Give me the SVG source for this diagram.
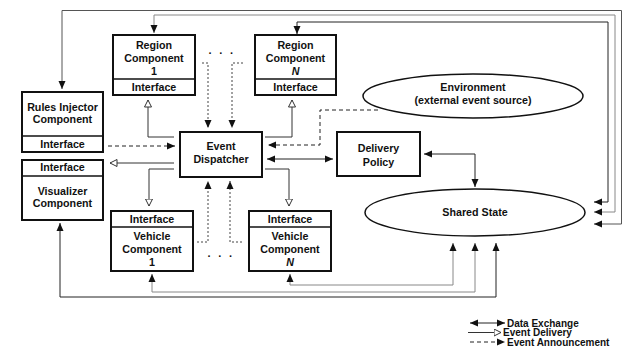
<svg xmlns="http://www.w3.org/2000/svg" width="623" height="358" viewBox="0 0 623 358">
<style>
text{font-family:"Liberation Sans",Arial,sans-serif;font-weight:bold;font-size:10.7px;fill:#111;text-anchor:middle}
.box{fill:#fff;stroke:#111;stroke-width:2}
.div{stroke:#111;stroke-width:1.5}
.ln{fill:none;stroke:#222;stroke-width:1}
.g{stroke:#888}
.m{stroke:#555}
.dl{fill:none;stroke:#333;stroke-width:1}
.da{fill:none;stroke:#222;stroke-width:1;stroke-dasharray:4 3}
.dt{fill:none;stroke:#444;stroke-width:1;stroke-dasharray:2 2}
.leg{text-anchor:start;font-size:10px}
.dots{text-anchor:start;letter-spacing:2.3px;font-size:11px}
</style>
<defs>
<marker id="fa" viewBox="0 0 8 8" refX="8" refY="4" markerWidth="8" markerHeight="8" markerUnits="userSpaceOnUse" orient="auto-start-reverse"><path d="M0,0.5 L8,4 L0,7.5 z" fill="#111"/></marker>
<marker id="oa" viewBox="0 0 8 8" refX="7.5" refY="4" markerWidth="8" markerHeight="8" markerUnits="userSpaceOnUse" orient="auto"><path d="M0.5,0.5 L7.5,4 L0.5,7.5 z" fill="#fff" stroke="#333" stroke-width="1"/></marker>
</defs>
<rect width="623" height="358" fill="#fff"/>

<g id="connectors">
<path class="dl" d="M174,137 H148 V100" marker-end="url(#oa)"/>
<path class="dl" d="M265,137 H292 V100" marker-end="url(#oa)"/>
<path class="dl" d="M174,163 H110" marker-end="url(#oa)"/>
<path class="dl" d="M174,169 H149 V206" marker-end="url(#oa)"/>
<path class="dl" d="M265,169 H289 V206" marker-end="url(#oa)"/>
<path class="da" d="M108,146 H175" marker-end="url(#fa)"/>
<path class="da" d="M378,110 H320 V145 H268" marker-end="url(#fa)"/>
<path class="dt" d="M202,63 H208 V128" marker-end="url(#fa)"/>
<path class="dt" d="M243,63 H232 V128" marker-end="url(#fa)"/>
<path class="dt" d="M197,242 H208 V181" marker-end="url(#fa)"/>
<path class="dt" d="M242,242 H230 V181" marker-end="url(#fa)"/>
<path class="ln" d="M267,159 H333" marker-start="url(#fa)" marker-end="url(#fa)"/>
<path class="ln" d="M424,154 H475 V187" marker-start="url(#fa)" marker-end="url(#fa)"/>
<path class="ln m" d="M62,89 V10.5 H621.5 V224 H594" marker-start="url(#fa)" marker-end="url(#fa)"/>
<path class="ln g" d="M154,33 V15 H615 V212 H594" marker-start="url(#fa)" marker-end="url(#fa)"/>
<path class="ln" d="M297,34 V22 H608 V202 H594" marker-start="url(#fa)" marker-end="url(#fa)"/>
<path class="ln" d="M60,223 V297 H496 V243" marker-start="url(#fa)" marker-end="url(#fa)"/>
<path class="ln g" d="M152,274 V292 H475 V243" marker-start="url(#fa)" marker-end="url(#fa)"/>
<path class="ln g" d="M290,274 V285 H453 V243" marker-start="url(#fa)" marker-end="url(#fa)"/>
</g>

<g id="region1">
<rect class="box" x="113" y="35" width="82" height="60"/>
<line class="div" x1="113" y1="79" x2="195" y2="79"/>
<text x="154" y="49">Region</text>
<text x="154" y="62">Component</text>
<text x="154" y="75">1</text>
<text x="154" y="91">Interface</text>
</g>
<g id="regionN">
<rect class="box" x="255" y="35" width="81" height="60"/>
<line class="div" x1="255" y1="79" x2="336" y2="79"/>
<text x="295.5" y="49">Region</text>
<text x="295.5" y="62">Component</text>
<text x="295.5" y="75" font-style="italic">N</text>
<text x="295.5" y="91">Interface</text>
</g>
<g id="dots-top"><text class="dots" x="208.5" y="54">. . .</text></g>
<g id="rules">
<rect class="box" x="22" y="92" width="81" height="60"/>
<line class="div" x1="22" y1="136" x2="103" y2="136"/>
<text x="62.5" y="111">Rules Injector</text>
<text x="62.5" y="123">Component</text>
<text x="62.5" y="148">Interface</text>
</g>
<g id="visualizer">
<rect class="box" x="22" y="160" width="81" height="60"/>
<line class="div" x1="22" y1="176" x2="103" y2="176"/>
<text x="62.5" y="171">Interface</text>
<text x="62.5" y="195">Visualizer</text>
<text x="62.5" y="207">Component</text>
</g>
<g id="dispatcher">
<rect class="box" x="180" y="132" width="82" height="45"/>
<text x="221" y="150">Event</text>
<text x="221" y="163">Dispatcher</text>
</g>
<g id="delivery">
<rect class="box" x="337" y="132" width="83" height="44"/>
<text x="378.5" y="152">Delivery</text>
<text x="378.5" y="166">Policy</text>
</g>
<g id="environment">
<ellipse cx="473" cy="96" rx="110" ry="22" fill="#fff" stroke="#111" stroke-width="1.5"/>
<text x="473" y="91">Environment</text>
<text x="473" y="104">(external event source)</text>
</g>
<g id="shared">
<ellipse cx="475" cy="212.5" rx="110" ry="23.5" fill="#fff" stroke="#111" stroke-width="1.5"/>
<text x="475" y="216">Shared State</text>
</g>
<g id="vehicle1">
<rect class="box" x="111" y="211" width="82" height="60"/>
<line class="div" x1="111" y1="227" x2="193" y2="227"/>
<text x="152" y="223">Interface</text>
<text x="152" y="240">Vehicle</text>
<text x="152" y="253">Component</text>
<text x="152" y="266">1</text>
</g>
<g id="vehicleN">
<rect class="box" x="249" y="211" width="82" height="60"/>
<line class="div" x1="249" y1="227" x2="331" y2="227"/>
<text x="290" y="223">Interface</text>
<text x="290" y="240">Vehicle</text>
<text x="290" y="253">Component</text>
<text x="290" y="266" font-style="italic">N</text>
</g>
<g id="dots-bottom"><text class="dots" x="207.5" y="257">. . .</text></g>

<g id="legend">
<path class="ln" d="M470,323 H505" marker-start="url(#fa)" marker-end="url(#fa)"/>
<text class="leg" x="507" y="326.5">Data Exchange</text>
<path class="dl" d="M468,332.5 H501" marker-end="url(#oa)"/>
<text class="leg" x="503" y="336">Event Delivery</text>
<path class="da" d="M470,342 H505" marker-end="url(#fa)"/>
<text class="leg" x="507" y="345.5">Event Announcement</text>
</g>
</svg>
